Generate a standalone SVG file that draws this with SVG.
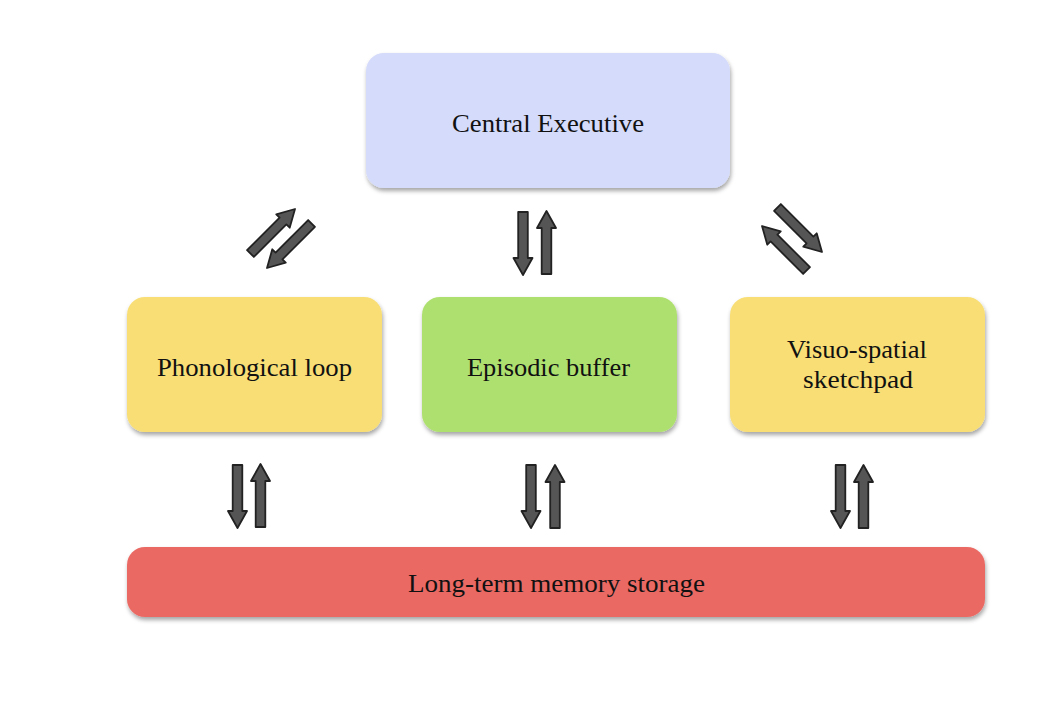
<svg xmlns="http://www.w3.org/2000/svg" xmlns:xlink="http://www.w3.org/1999/xlink" width="1062" height="708" viewBox="0 0 1062 708">
  <style>
    .box { stroke: none; filter: url(#shadow); }
    .lbl { font-family: "Liberation Serif", "Times New Roman", serif; font-size: 26px; fill: #111111; text-anchor: middle; }
    .arr { fill: #555555; stroke: #222222; stroke-width: 1.8; stroke-linejoin: round; }
  </style>
  <defs>
    <filter id="shadow" x="-10%" y="-20%" width="120%" height="150%">
      <feDropShadow dx="1" dy="3" stdDeviation="2" flood-color="#000000" flood-opacity="0.35"/>
    </filter>
    <path id="arrow" d="M0,0 L9.5,17 L4.8,17 L4.8,63 L-4.8,63 L-4.8,17 L-9.5,17 Z"/>
  </defs>
  <rect width="1062" height="708" fill="#ffffff"/>

  <g id="central-executive">
    <rect class="box" x="366" y="53" width="364" height="135" rx="18" fill="#d5dbfa"/>
    <text class="lbl" x="548" y="132" textLength="192" lengthAdjust="spacingAndGlyphs">Central Executive</text>
  </g>
  <g id="phonological-loop">
    <rect class="box" x="127" y="297" width="255" height="135" rx="18" fill="#f8de75"/>
    <text class="lbl" x="254.5" y="376" textLength="195" lengthAdjust="spacingAndGlyphs">Phonological loop</text>
  </g>
  <g id="episodic-buffer">
    <rect class="box" x="422" y="297" width="255" height="135" rx="18" fill="#aee06f"/>
    <text class="lbl" x="548.5" y="376" textLength="163" lengthAdjust="spacingAndGlyphs">Episodic buffer</text>
  </g>
  <g id="visuo-spatial-sketchpad">
    <rect class="box" x="730" y="297" width="255" height="135" rx="18" fill="#f8de75"/>
    <text class="lbl" x="857" y="358" textLength="140" lengthAdjust="spacingAndGlyphs">Visuo-spatial</text>
    <text class="lbl" x="858" y="388" textLength="110" lengthAdjust="spacingAndGlyphs">sketchpad</text>
  </g>
  <g id="long-term-memory">
    <rect class="box" x="127" y="547" width="858" height="70" rx="18" fill="#ea6964"/>
    <text class="lbl" x="556.5" y="592" textLength="297" lengthAdjust="spacingAndGlyphs">Long-term memory storage</text>
  </g>

  <g id="connectors">
    <use xlink:href="#arrow" class="arr" transform="translate(295,209) rotate(45)"/>
    <use xlink:href="#arrow" class="arr" transform="translate(267,268) rotate(225)"/>
    <use xlink:href="#arrow" class="arr" transform="translate(523,275) rotate(180)"/>
    <use xlink:href="#arrow" class="arr" transform="translate(546.5,211)"/>
    <use xlink:href="#arrow" class="arr" transform="translate(822,252) rotate(135)"/>
    <use xlink:href="#arrow" class="arr" transform="translate(762,226) rotate(-45)"/>
    <use xlink:href="#arrow" class="arr" transform="translate(237.5,528) rotate(180)"/>
    <use xlink:href="#arrow" class="arr" transform="translate(260.5,464)"/>
    <use xlink:href="#arrow" class="arr" transform="translate(531,528) rotate(180)"/>
    <use xlink:href="#arrow" class="arr" transform="translate(555,465)"/>
    <use xlink:href="#arrow" class="arr" transform="translate(840.5,528) rotate(180)"/>
    <use xlink:href="#arrow" class="arr" transform="translate(863.5,465)"/>
  </g>
</svg>
